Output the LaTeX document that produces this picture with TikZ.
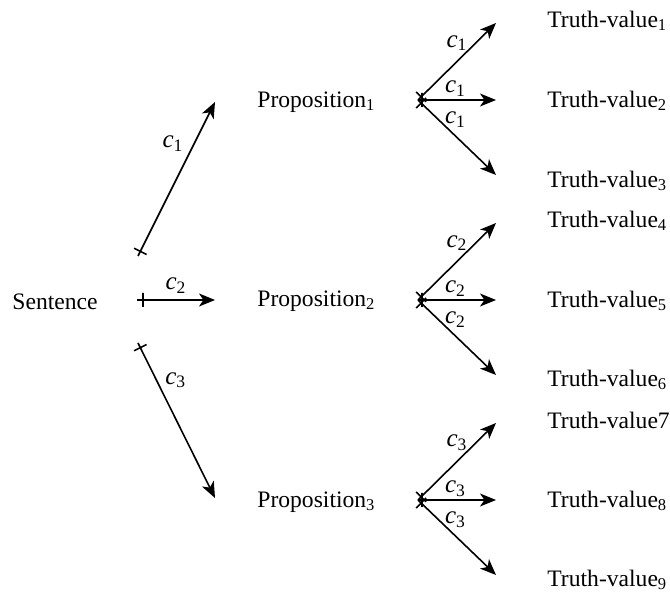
\documentclass[tikz,border=0pt]{standalone}
\usepackage{fontspec}
\setmainfont{Liberation Serif}
\usetikzlibrary{arrows.meta,positioning}
\begin{document}
\begin{tikzpicture}[x=0.5pt,y=-0.5pt,
  every node/.style={font=\fontsize{11.8}{13}\selectfont, inner sep=1pt},
  conn/.style={line width=0.8pt, -{Stealth[length=8pt,width=6.5pt,inset=2.2pt]}},
  tickmark/.style={sloped, draw, line width=0.8pt, minimum width=0pt, minimum height=7pt, inner sep=0pt, outer sep=0pt, pos=#1},
  lab/.style={font=\fontsize{12.5}{13}\selectfont, inner sep=1pt}]
\useasboundingbox (0,0) rectangle (670,592);
\newcommand{\cc}[1]{\textit{c}\textsubscript{#1}}
% nodes
\node (S) at (55,302) {Sentence};
\node[anchor=west] (P1) at (255,102) {Proposition\textsubscript{1}};
\node[anchor=west] (P2) at (255,301) {Proposition\textsubscript{2}};
\node[anchor=west] (P3) at (255,502) {Proposition\textsubscript{3}};
\node[anchor=west] (T1) at (545,21) {Truth-value\textsubscript{1}};
\node[anchor=west] (T2) at (545,101) {Truth-value\textsubscript{2}};
\node[anchor=west] (T3) at (545,181) {Truth-value\textsubscript{3}};
\node[anchor=west] (T4) at (545,221) {Truth-value\textsubscript{4}};
\node[anchor=west] (T5) at (545,301) {Truth-value\textsubscript{5}};
\node[anchor=west] (T6) at (545,380) {Truth-value\textsubscript{6}};
\node[anchor=west] (T7) at (545,420) {Truth-value7};
\node[anchor=west] (T8) at (545,501) {Truth-value\textsubscript{8}};
\node[anchor=west] (T9) at (545,580) {Truth-value\textsubscript{9}};
% coordinates for connector ends
\coordinate (s1) at (138,256);
\coordinate (s2) at (137,300);
\coordinate (s3) at (138,343);
\coordinate (e1) at (215,102);
\coordinate (e2) at (215,300);
\coordinate (e3) at (215,498);
\draw[conn] (s1) -- node[tickmark=0.03] {} node[lab,pos=0.73,left=4pt] {\cc{1}} (e1);
\draw[conn] (s2) -- node[tickmark=0.08] {} node[lab,pos=0.5,above=2pt] {\cc{2}} (e2);
\draw[conn] (s3) -- node[tickmark=0.03] {} node[lab,pos=0.24,right=3pt] {\cc{3}} (e3);
% fans
\foreach \i/\y in {1/100, 2/300, 3/500}{
  \coordinate (f\i) at (418,\y);
  \coordinate (u\i) at (496,\y-77);
  \coordinate (m\i) at (496,\y);
  \coordinate (d\i) at (496,\y+75);
  \draw[conn] (f\i) -- node[tickmark=0.04] {} node[lab,pos=0.5,above=4pt] {\cc{\i}} (u\i);
  \draw[conn] (f\i) -- node[tickmark=0.05] {} node[lab,pos=0.48,above=0.5pt] {\cc{\i}} (m\i);
  \draw[conn] (f\i) -- node[tickmark=0.04] {} node[lab,pos=0.48,above=3pt] {\cc{\i}} (d\i);
}
\end{tikzpicture}
\end{document}
